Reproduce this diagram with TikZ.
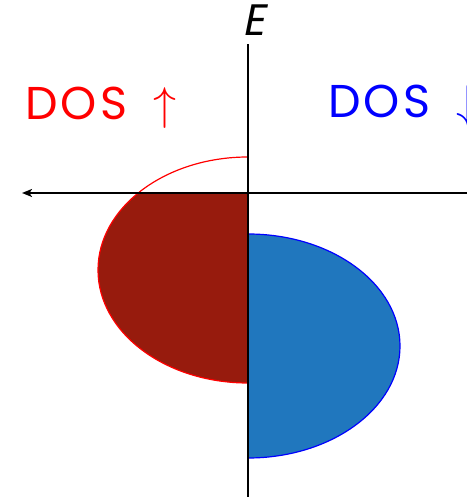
\documentclass[tikz,border=0pt]{standalone}
\usepackage{fix-cm}
\usepackage{fontspec}
\newfontfamily\dosfont[LetterSpace=7]{Poppins}
\newfontfamily\dosslant[FakeSlant=0.2]{Poppins}
\usetikzlibrary{arrows.meta}
\definecolor{upfill}{RGB}{151,27,13}
\definecolor{downfill}{RGB}{32,119,190}

\begin{document}
\begin{tikzpicture}
  [x=1pt,y=1pt,
   axis/.style={line width=2.6pt,{Stealth[length=10pt,width=8pt,inset=2.5pt]}-{Stealth[length=10pt,width=8pt,inset=2.5pt]}},
   label/.style={inner sep=0pt,font=\dosfont\fontsize{46}{50}\selectfont}]
  \useasboundingbox (0,0) rectangle (466,497);

  % Achsenenden
  \coordinate (xl) at (22,304);
  \coordinate (xr) at (478,304);
  \coordinate (yb) at (248,-2);
  \coordinate (yt) at (248,453);

  % DOS spin up (links)
  \begin{scope}
    \clip (0,0) rectangle (248,304);
    \fill[upfill] (248,340) arc[start angle=90,end angle=270,x radius=150,y radius=113] -- cycle;
  \end{scope}
  \draw[red,line width=1.2pt] (248,340) arc[start angle=90,end angle=270,x radius=150,y radius=113];

  % DOS spin down (rechts)
  \fill[downfill] (248,263) arc[start angle=90,end angle=-90,x radius=152,y radius=112] -- cycle;
  \draw[blue,line width=1.2pt] (248,263) arc[start angle=90,end angle=-90,x radius=152,y radius=112];

  % Achsen
  \draw[axis] (xl) -- (xr);
  \draw[axis,{-}] (yb) -- (yt);

  \node[label,anchor=base,font=\dosslant\fontsize{44}{48}\selectfont] (e) at (254,461) {E};
  \node[label,red,anchor=base west] (up) at (25,377) {DOS\hspace{26pt}$\uparrow$};
  \node[label,blue,anchor=base west] (down) at (328,379) {DOS\hspace{26pt}$\downarrow$};
\end{tikzpicture}
\end{document}
